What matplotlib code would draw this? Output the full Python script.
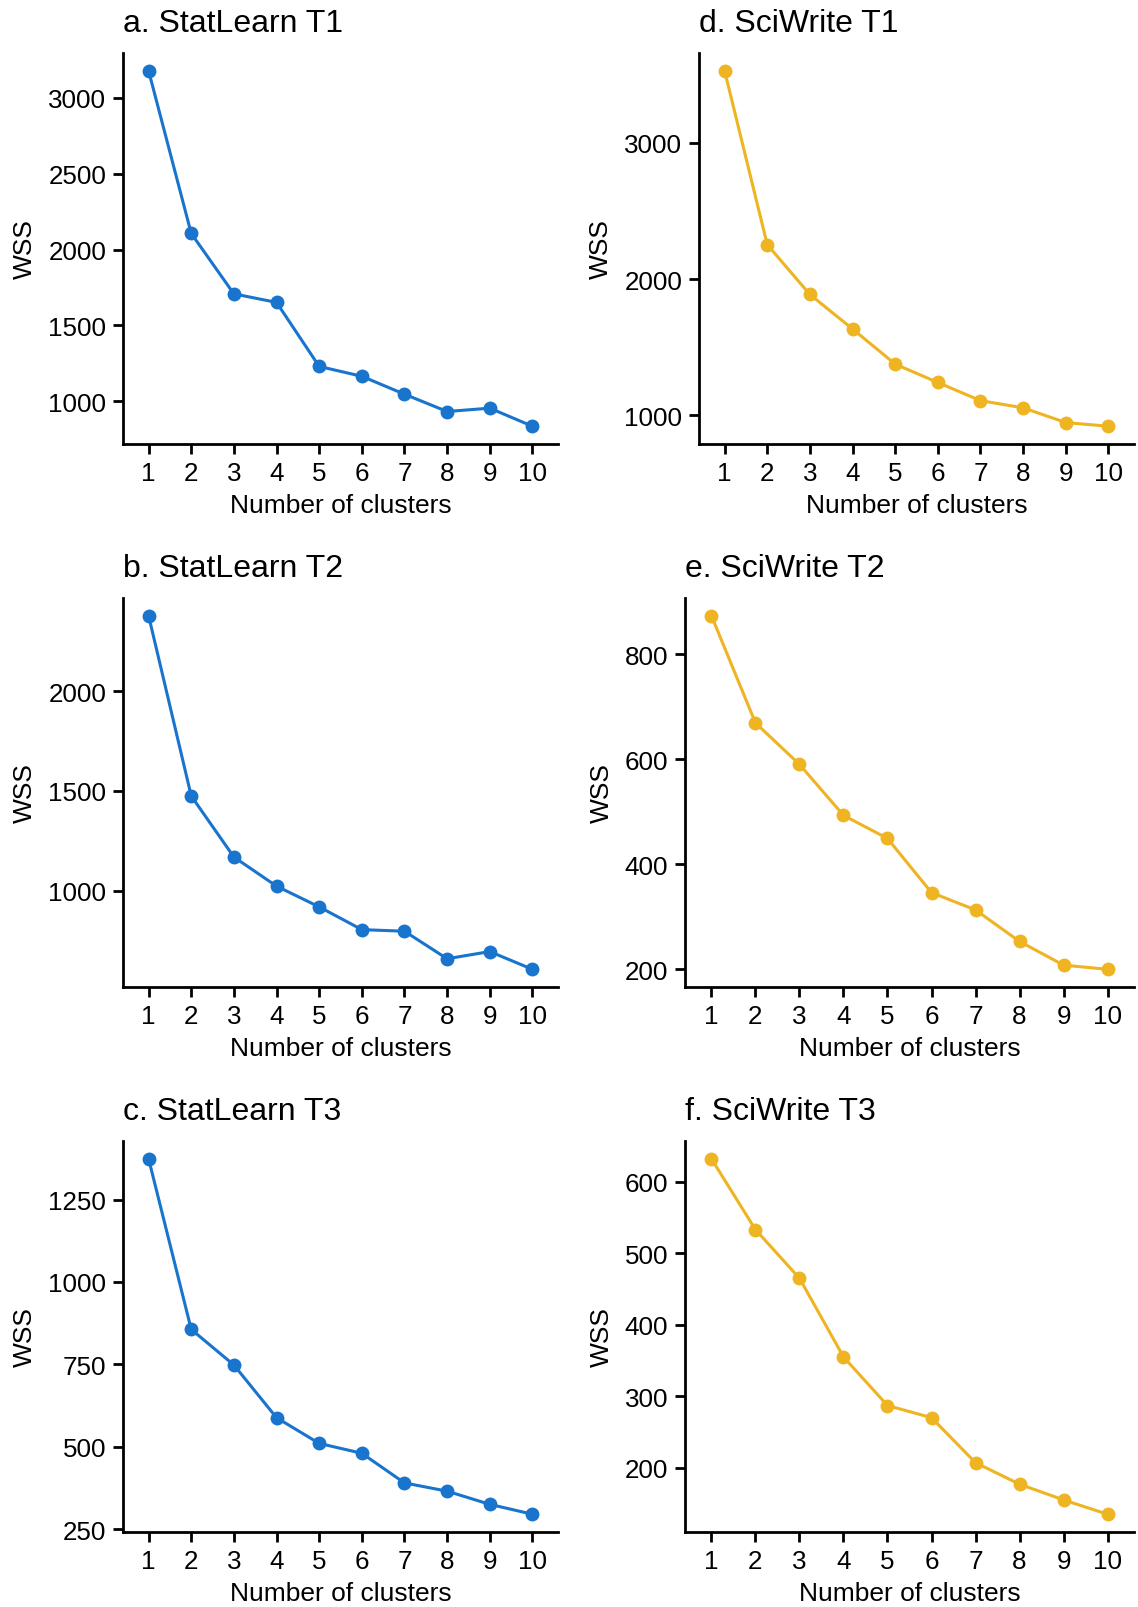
import matplotlib
matplotlib.use("Agg")
import matplotlib.pyplot as plt

plt.rcParams['font.family'] = ['Liberation Sans', 'DejaVu Sans']

clusters = [1, 2, 3, 4, 5, 6, 7, 8, 9, 10]

statlearn_t1 = [3178, 2106, 1708, 1652, 1230, 1165, 1047, 933, 955, 836]
statlearn_t2 = [2378, 1474, 1168, 1022, 918, 804, 796, 658, 694, 605]
statlearn_t3 = [1374, 856, 748, 588, 510, 480, 390, 365, 325, 295]
sciwrite_t1 = [3529, 2253, 1887, 1634, 1376, 1241, 1108, 1055, 947, 920]
sciwrite_t2 = [873, 669, 590, 493, 449, 346, 313, 253, 208, 200]
sciwrite_t3 = [632, 533, 465, 355, 287, 270, 207, 177, 155, 135]

titles = ["a. StatLearn T1", "b. StatLearn T2", "c. StatLearn T3",
          "d. SciWrite T1", "e. SciWrite T2", "f. SciWrite T3"]
yticks = [[1000, 1500, 2000, 2500, 3000], [1000, 1500, 2000], [250, 500, 750, 1000, 1250],
          [1000, 2000, 3000], [200, 400, 600, 800], [200, 300, 400, 500, 600]]
series = [statlearn_t1, statlearn_t2, statlearn_t3, sciwrite_t1, sciwrite_t2, sciwrite_t3]

blue = "#1874CD"
gold = "#EEB422"

W, H = 1138, 1608
fig = plt.figure(figsize=(W / 100, H / 100), dpi=100)

# axes boxes in pixels: (left, top, right, bottom)
lefts = [123, 123, 123, 699, 685, 685]
rights = [558, 558, 558, 1134, 1134, 1134]
tops = [54, 599, 1142, 54, 599, 1142]
bottoms = [445, 988, 1533, 445, 988, 1533]

for i in range(6):
    l, t, r, b = lefts[i], tops[i], rights[i], bottoms[i]
    ax = fig.add_axes([l / W, 1 - b / H, (r - l) / W, (b - t) / H])
    color = blue if i < 3 else gold
    ax.plot(clusters, series[i], color=color, lw=2.2, marker='o', markersize=10,
            markeredgewidth=0, solid_capstyle='round')
    ymin, ymax = min(series[i]), max(series[i])
    pad = (ymax - ymin) * 0.05
    ax.set_ylim(ymin - pad, ymax + pad)
    ax.set_xlim(0.4, 10.6)
    ax.set_xticks(clusters)
    ax.set_yticks(yticks[i])
    for s in ['top', 'right']:
        ax.spines[s].set_visible(False)
    for s in ['left', 'bottom']:
        ax.spines[s].set_linewidth(2)
        ax.spines[s].set_color('black')
    ax.tick_params(axis='both', length=7, width=2, color='black', labelsize=18.7,
                   pad=5, labelcolor='black')
    ax.set_xlabel("Number of clusters", fontsize=19, labelpad=6)
    ax.set_ylabel("WSS", fontsize=19, labelpad=8)
    ax.set_title(titles[i], fontsize=23, loc='left', pad=16, x=0.0)

fig.savefig("out.png", dpi=100, facecolor='white')
